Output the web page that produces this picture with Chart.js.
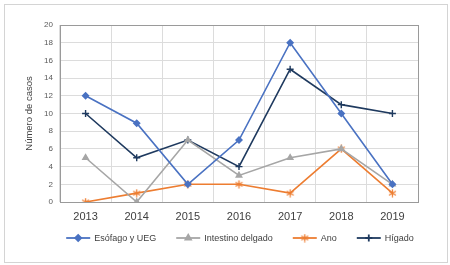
<!DOCTYPE html>
<html>
<head>
<meta charset="utf-8">
<script src="https://cdn.jsdelivr.net/npm/chart.js@4.4.1/dist/chart.umd.min.js"></script>
<style>
  html, body { margin: 0; padding: 0; background: #fff; }
  #frame { position: absolute; left: 4px; top: 4px; width: 442px; height: 257px; border: 1px solid #d4d4d4; }
  #wrap { position: absolute; left: 0; top: 0; width: 450px; height: 265px; }
</style>
</head>
<body>
<div id="frame"></div>
<div id="wrap"><canvas id="chart" width="450" height="265"></canvas></div>
<script>
const years = ["2013", "2014", "2015", "2016", "2017", "2018", "2019"];
const esofago = [12, 8.9, 2, 7, 18, 10, 2];
const intestino = [5, 0, 7, 3, 5, 6, 2];
const ano = [0, 1, 2, 2, 1, 6, 1];
const higado = [10, 5, 7, 4, 15, 11, 10];
const yTicks = [0, 2, 4, 6, 8, 10, 12, 14, 16, 18, 20];

const FONT = "'Liberation Sans', Arial, sans-serif";

// asterisk marker used by the "Ano" series
function asterisk(color) {
  const c = document.createElement("canvas");
  c.width = 9; c.height = 9;
  const g = c.getContext("2d");
  g.strokeStyle = color;
  g.lineWidth = 1.3;
  g.beginPath();
  g.moveTo(4.5, 0.5); g.lineTo(4.5, 8.5);
  g.moveTo(1, 2.5); g.lineTo(8, 6.5);
  g.moveTo(1, 6.5); g.lineTo(8, 2.5);
  g.stroke();
  return c;
}

function series(label, data, color, pointStyle, radius) {
  return {
    label, data,
    borderColor: color,
    backgroundColor: color,
    borderWidth: 1.6,
    pointStyle,
    pointRadius: radius,
    pointBorderWidth: 1.4,
    tension: 0
  };
}

// legend: line with marker in the middle
const lineLegend = {
  id: "lineLegend",
  afterDraw(chart) {
    const ctx = chart.ctx;
    const y = 238;
    const lineLen = 24, gap = 4, spacing = 20;
    ctx.save();
    ctx.font = "9px " + FONT;
    const items = chart.data.datasets.map(ds => ({ ds, w: ctx.measureText(ds.label).width }));
    const total = items.reduce((s, it) => s + lineLen + gap + it.w, 0) + spacing * (items.length - 1);
    let x = 240 - total / 2;
    items.forEach(({ ds, w }) => {
      ctx.strokeStyle = ds.borderColor;
      ctx.lineWidth = 1.8;
      ctx.beginPath();
      ctx.moveTo(x, y);
      ctx.lineTo(x + lineLen, y);
      ctx.stroke();
      ctx.fillStyle = ds.borderColor;
      Chart.helpers.drawPoint(ctx, {
        pointStyle: ds.pointStyle, radius: ds.pointRadius, borderWidth: 1.4
      }, x + lineLen / 2, y);
      ctx.fillStyle = "#404040";
      ctx.textBaseline = "middle";
      ctx.textAlign = "left";
      ctx.fillText(ds.label, x + lineLen + gap, y + 0.5);
      x += lineLen + gap + w + spacing;
    });
    ctx.restore();
  }
};

// full box round the plot area
const plotBox = {
  id: "plotBox",
  afterDraw(chart) {
    const a = chart.chartArea;
    const ctx = chart.ctx;
    ctx.save();
    ctx.strokeStyle = "#9a9a9a";
    ctx.lineWidth = 1;
    ctx.strokeRect(Math.round(a.left) + 0.5, Math.round(a.top) + 0.5,
      Math.round(a.right - a.left), Math.round(a.bottom - a.top));
    ctx.restore();
  }
};

new Chart(document.getElementById("chart"), {
  type: "line",
  data: {
    labels: years,
    datasets: [
      series("Esófago y UEG", esofago, "#4a72c2", "rectRot", 3),
      series("Intestino delgado", intestino, "#a6a6a6", "triangle", 3.2),
      series("Ano", ano, "#ed7d31", asterisk("#ed7d31"), 4),
      series("Hígado", higado, "#1f3a5f", "cross", 3.5)
    ]
  },
  options: {
    responsive: false,
    animation: false,
    layout: { padding: { left: 24, right: 32, top: 25, bottom: 0 } },
    plugins: {
      legend: { display: false },
      tooltip: { enabled: false }
    },
    scales: {
      x: {
        offset: true,
        grid: { color: "#dcdcdc", offset: true, drawTicks: false },
        border: { color: "#9a9a9a", width: 1 },
        ticks: { color: "#404040", font: { family: FONT, size: 11 }, padding: 8 },
        afterFit: s => { s.height = 63; }
      },
      y: {
        min: 0, max: 20,
        afterBuildTicks: s => { s.ticks = yTicks.map(v => ({ value: v })); },
        grid: { color: "#dcdcdc", drawTicks: false },
        border: { color: "#9a9a9a", width: 1 },
        ticks: { color: "#595959", font: { family: FONT, size: 8 }, padding: 7 },
        title: {
          display: true, text: "Número de casos", color: "#404040",
          font: { family: FONT, size: 9.5 }, padding: { top: 0, bottom: 0 }
        },
        afterFit: s => { s.width = 36; }
      }
    }
  },
  plugins: [plotBox, lineLegend]
});
</script>
</body>
</html>
